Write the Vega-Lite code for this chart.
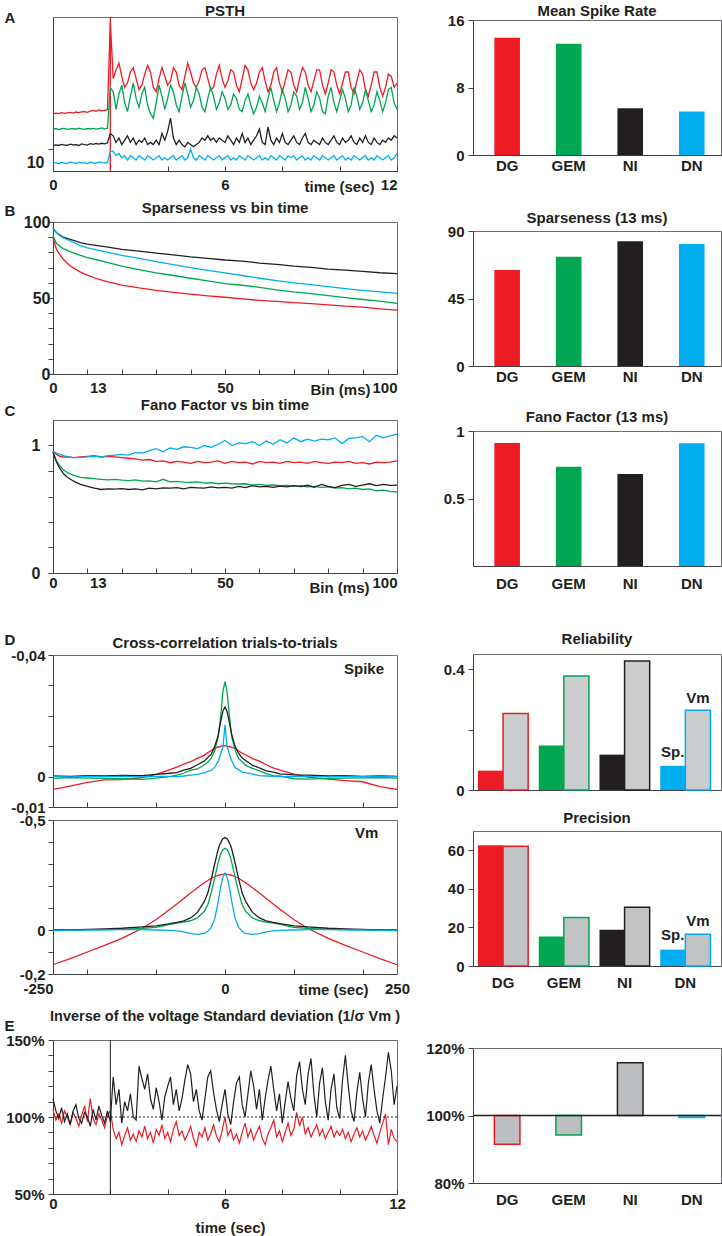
{
"$schema":"https://vega.github.io/schema/vega-lite/v6.json",
"background":"white",
"autosize":{"type":"pad"},
"padding":{"left":3,"top":3,"right":2,"bottom":2},
"config":{
 "font":"Liberation Sans",
 "view":{"stroke":"#6d6e71","strokeWidth":1},
 "axis":{"grid":false,"domainColor":"#414042","domainWidth":1,"tickColor":"#414042","tickWidth":1,"tickSize":5,"labelFont":"Liberation Sans","labelFontSize":15,"labelFontWeight":"bold","labelColor":"#231f20","labelFlush":false,"labelOverlap":false,"titleFont":"Liberation Sans","titleFontSize":15,"titleFontWeight":"bold","titleColor":"#231f20"},
 "axisX":{"labelBaseline":"middle","labelAngle":0},
 "title":{"font":"Liberation Sans","fontSize":15,"fontWeight":"bold","color":"#231f20","frame":"group","anchor":"middle"},
 "line":{"strokeWidth":1.3}
},
"datasets":{
"psth":[
{"t":0,"DG":26.0,"GEM":19.0,"NI":11.5,"DN":3.5},{"t":0.1,"DG":26.3,"GEM":19.3,"NI":11.9,"DN":3.9},{"t":0.2,"DG":26.1,"GEM":18.8,"NI":11.6,"DN":3.3},{"t":0.3,"DG":26.5,"GEM":19.2,"NI":12.1,"DN":4.0},{"t":0.4,"DG":26.2,"GEM":19.4,"NI":11.8,"DN":3.6},{"t":0.5,"DG":26.4,"GEM":18.9,"NI":11.7,"DN":3.4},{"t":0.6,"DG":26.6,"GEM":19.1,"NI":12.2,"DN":4.1},{"t":0.7,"DG":26.3,"GEM":19.3,"NI":11.9,"DN":3.7},{"t":0.8,"DG":26.8,"GEM":19.0,"NI":12.0,"DN":3.5},{"t":0.9,"DG":26.5,"GEM":19.5,"NI":11.6,"DN":4.0},
{"t":1.0,"DG":26.9,"GEM":19.2,"NI":12.3,"DN":3.6},{"t":1.1,"DG":27.0,"GEM":18.9,"NI":12.0,"DN":3.8},{"t":1.2,"DG":26.7,"GEM":19.3,"NI":11.8,"DN":3.4},{"t":1.3,"DG":27.2,"GEM":19.1,"NI":12.4,"DN":4.0},{"t":1.4,"DG":27.5,"GEM":19.4,"NI":12.1,"DN":3.7},{"t":1.5,"DG":27.1,"GEM":19.0,"NI":12.5,"DN":3.5},{"t":1.6,"DG":27.8,"GEM":19.3,"NI":12.2,"DN":4.1},{"t":1.7,"DG":27.3,"GEM":19.6,"NI":12.6,"DN":3.8},{"t":1.8,"DG":27.6,"GEM":19.2,"NI":12.3,"DN":3.6},{"t":1.9,"DG":27.9,"GEM":19.5,"NI":12.8,"DN":3.9},
{"t":2.0,"DG":68,"GEM":38,"NI":17,"DN":9},
{"t":2.1,"DG":42,"GEM":36,"NI":16,"DN":9},{"t":2.2,"DG":46,"GEM":28,"NI":13,"DN":7},{"t":2.3,"DG":49,"GEM":35,"NI":15,"DN":8},{"t":2.4,"DG":43,"GEM":39,"NI":12,"DN":6},{"t":2.5,"DG":38,"GEM":31,"NI":14,"DN":7},{"t":2.6,"DG":40,"GEM":27,"NI":16,"DN":5},{"t":2.7,"DG":45,"GEM":34,"NI":13,"DN":7},{"t":2.8,"DG":47,"GEM":40,"NI":15,"DN":6},{"t":2.9,"DG":42,"GEM":33,"NI":12,"DN":5},{"t":3.0,"DG":37,"GEM":29,"NI":14,"DN":7},
{"t":3.1,"DG":39,"GEM":35,"NI":13,"DN":6},{"t":3.2,"DG":44,"GEM":38,"NI":15,"DN":5},{"t":3.3,"DG":48,"GEM":30,"NI":12,"DN":7},{"t":3.4,"DG":45,"GEM":26,"NI":13,"DN":6},{"t":3.5,"DG":38,"GEM":24,"NI":12,"DN":5},{"t":3.6,"DG":36,"GEM":31,"NI":14,"DN":6},{"t":3.7,"DG":42,"GEM":39,"NI":12,"DN":7},{"t":3.8,"DG":47,"GEM":34,"NI":17,"DN":5},{"t":3.9,"DG":43,"GEM":28,"NI":14,"DN":6},{"t":4.0,"DG":39,"GEM":33,"NI":18,"DN":5},
{"t":4.1,"DG":41,"GEM":39,"NI":24,"DN":6},{"t":4.2,"DG":47,"GEM":36,"NI":15,"DN":7},{"t":4.3,"DG":45,"GEM":30,"NI":12,"DN":5},{"t":4.4,"DG":39,"GEM":27,"NI":14,"DN":6},{"t":4.5,"DG":37,"GEM":34,"NI":12,"DN":7},{"t":4.6,"DG":43,"GEM":40,"NI":11,"DN":5},{"t":4.7,"DG":49,"GEM":35,"NI":13,"DN":6},{"t":4.8,"DG":45,"GEM":29,"NI":12,"DN":10},{"t":4.9,"DG":40,"GEM":32,"NI":11,"DN":6},{"t":5.0,"DG":38,"GEM":38,"NI":12,"DN":5},
{"t":5.1,"DG":41,"GEM":35,"NI":13,"DN":7},{"t":5.2,"DG":46,"GEM":29,"NI":15,"DN":6},{"t":5.3,"DG":47,"GEM":27,"NI":14,"DN":5},{"t":5.4,"DG":42,"GEM":33,"NI":16,"DN":7},{"t":5.5,"DG":37,"GEM":38,"NI":14,"DN":6},{"t":5.6,"DG":38,"GEM":34,"NI":15,"DN":5},{"t":5.7,"DG":44,"GEM":28,"NI":13,"DN":6},{"t":5.8,"DG":48,"GEM":31,"NI":15,"DN":7},{"t":5.9,"DG":42,"GEM":36,"NI":14,"DN":5},{"t":6.0,"DG":38,"GEM":33,"NI":13,"DN":6},
{"t":6.1,"DG":41,"GEM":28,"NI":16,"DN":7},{"t":6.2,"DG":46,"GEM":30,"NI":14,"DN":5},{"t":6.3,"DG":45,"GEM":35,"NI":12,"DN":6},{"t":6.4,"DG":39,"GEM":33,"NI":15,"DN":5},{"t":6.5,"DG":36,"GEM":28,"NI":13,"DN":7},{"t":6.6,"DG":42,"GEM":27,"NI":17,"DN":6},{"t":6.7,"DG":48,"GEM":32,"NI":13,"DN":5},{"t":6.8,"DG":46,"GEM":35,"NI":15,"DN":7},{"t":6.9,"DG":40,"GEM":30,"NI":12,"DN":6},{"t":7.0,"DG":37,"GEM":26,"NI":14,"DN":5},
{"t":7.1,"DG":40,"GEM":29,"NI":16,"DN":6},{"t":7.2,"DG":45,"GEM":34,"NI":19,"DN":7},{"t":7.3,"DG":47,"GEM":31,"NI":13,"DN":5},{"t":7.4,"DG":41,"GEM":27,"NI":12,"DN":6},{"t":7.5,"DG":36,"GEM":33,"NI":20,"DN":5},{"t":7.6,"DG":39,"GEM":38,"NI":14,"DN":7},{"t":7.7,"DG":45,"GEM":32,"NI":12,"DN":6},{"t":7.8,"DG":47,"GEM":27,"NI":15,"DN":5},{"t":7.9,"DG":40,"GEM":31,"NI":13,"DN":7},{"t":8.0,"DG":36,"GEM":37,"NI":17,"DN":6},
{"t":8.1,"DG":41,"GEM":33,"NI":13,"DN":5},{"t":8.2,"DG":46,"GEM":27,"NI":12,"DN":7},{"t":8.3,"DG":45,"GEM":30,"NI":14,"DN":6},{"t":8.4,"DG":39,"GEM":36,"NI":16,"DN":7},{"t":8.5,"DG":36,"GEM":34,"NI":13,"DN":5},{"t":8.6,"DG":42,"GEM":28,"NI":12,"DN":6},{"t":8.7,"DG":47,"GEM":31,"NI":15,"DN":7},{"t":8.8,"DG":45,"GEM":38,"NI":17,"DN":5},{"t":8.9,"DG":39,"GEM":33,"NI":13,"DN":6},{"t":9.0,"DG":36,"GEM":27,"NI":12,"DN":5},
{"t":9.1,"DG":41,"GEM":30,"NI":14,"DN":7},{"t":9.2,"DG":46,"GEM":36,"NI":13,"DN":6},{"t":9.3,"DG":46,"GEM":33,"NI":12,"DN":5},{"t":9.4,"DG":39,"GEM":27,"NI":15,"DN":7},{"t":9.5,"DG":35,"GEM":26,"NI":13,"DN":6},{"t":9.6,"DG":40,"GEM":34,"NI":12,"DN":5},{"t":9.7,"DG":46,"GEM":38,"NI":14,"DN":6},{"t":9.8,"DG":45,"GEM":31,"NI":16,"DN":7},{"t":9.9,"DG":39,"GEM":27,"NI":13,"DN":5},{"t":10.0,"DG":35,"GEM":32,"NI":12,"DN":6},
{"t":10.1,"DG":40,"GEM":37,"NI":15,"DN":7},{"t":10.2,"DG":45,"GEM":33,"NI":13,"DN":5},{"t":10.3,"DG":45,"GEM":27,"NI":14,"DN":6},{"t":10.4,"DG":38,"GEM":30,"NI":16,"DN":5},{"t":10.5,"DG":35,"GEM":38,"NI":13,"DN":7},{"t":10.6,"DG":41,"GEM":34,"NI":12,"DN":6},{"t":10.7,"DG":46,"GEM":28,"NI":15,"DN":5},{"t":10.8,"DG":44,"GEM":31,"NI":13,"DN":6},{"t":10.9,"DG":37,"GEM":37,"NI":16,"DN":7},{"t":11.0,"DG":34,"GEM":32,"NI":13,"DN":5},
{"t":11.1,"DG":39,"GEM":27,"NI":12,"DN":6},{"t":11.2,"DG":45,"GEM":30,"NI":15,"DN":5},{"t":11.3,"DG":45,"GEM":36,"NI":13,"DN":7},{"t":11.4,"DG":38,"GEM":32,"NI":12,"DN":6},{"t":11.5,"DG":34,"GEM":27,"NI":14,"DN":5},{"t":11.6,"DG":38,"GEM":31,"NI":13,"DN":6},{"t":11.7,"DG":44,"GEM":37,"NI":15,"DN":7},{"t":11.8,"DG":43,"GEM":38,"NI":14,"DN":5},{"t":11.9,"DG":38,"GEM":31,"NI":16,"DN":6},{"t":12.0,"DG":40,"GEM":28,"NI":15,"DN":8}
],
"spars":[
{"ms":0,"DG":90,"GEM":91,"NI":96,"DN":96},{"ms":1,"DG":82,"GEM":86,"NI":93,"DN":93},{"ms":2,"DG":78.5,"GEM":84,"NI":91.5,"DN":91},{"ms":3,"DG":75.5,"GEM":82.5,"NI":90,"DN":89.5},{"ms":5,"DG":71,"GEM":80.5,"NI":88.5,"DN":87.5},{"ms":8,"DG":67,"GEM":78,"NI":86.5,"DN":84.5},{"ms":10,"DG":65,"GEM":76.6,"NI":85.5,"DN":83},{"ms":13,"DG":62.5,"GEM":75,"NI":84.5,"DN":81.5},{"ms":16,"DG":60.6,"GEM":73.2,"NI":83.5,"DN":80},{"ms":20,"DG":58.5,"GEM":71,"NI":82,"DN":78},
{"ms":25,"DG":56.6,"GEM":68.7,"NI":80.8,"DN":76},{"ms":30,"DG":55,"GEM":66.5,"NI":79.5,"DN":74},{"ms":35,"DG":53.7,"GEM":64.8,"NI":78.4,"DN":72},{"ms":40,"DG":52.5,"GEM":63,"NI":77,"DN":70},{"ms":45,"DG":51.4,"GEM":61.2,"NI":76.1,"DN":68.2},{"ms":50,"DG":50.5,"GEM":59.5,"NI":75,"DN":66.5},{"ms":55,"DG":49.4,"GEM":58.4,"NI":74.2,"DN":64.8},{"ms":60,"DG":48.5,"GEM":57,"NI":73,"DN":63},{"ms":65,"DG":47.8,"GEM":55.4,"NI":72.1,"DN":61.4},{"ms":70,"DG":47,"GEM":54,"NI":71,"DN":60},
{"ms":75,"DG":46.3,"GEM":52.9,"NI":70.2,"DN":58.8},{"ms":80,"DG":45.5,"GEM":51.5,"NI":69,"DN":57.5},{"ms":85,"DG":44.6,"GEM":50.3,"NI":68.3,"DN":56.2},{"ms":90,"DG":44,"GEM":49,"NI":67.5,"DN":55},{"ms":95,"DG":42.9,"GEM":47.9,"NI":66.6,"DN":54},{"ms":100,"DG":42,"GEM":46.5,"NI":66,"DN":53}
],
"fano":[
{"ms":0,"DG":0.955,"GEM":0.945,"NI":0.95,"DN":0.955},{"ms":1,"DG":0.93,"GEM":0.88,"NI":0.87,"DN":0.94},{"ms":2,"DG":0.915,"GEM":0.84,"NI":0.82,"DN":0.93},{"ms":3,"DG":0.91,"GEM":0.81,"NI":0.78,"DN":0.92},{"ms":4,"DG":0.91,"GEM":0.79,"NI":0.755,"DN":0.915},
{"ms":6,"DG":0.905,"GEM":0.765,"NI":0.72,"DN":0.905},{"ms":8,"DG":0.91,"GEM":0.75,"NI":0.695,"DN":0.905},{"ms":10,"DG":0.915,"GEM":0.745,"NI":0.68,"DN":0.91},{"ms":12,"DG":0.92,"GEM":0.74,"NI":0.665,"DN":0.915},{"ms":14,"DG":0.91,"GEM":0.735,"NI":0.655,"DN":0.91},{"ms":16,"DG":0.915,"GEM":0.73,"NI":0.66,"DN":0.92},{"ms":18,"DG":0.91,"GEM":0.735,"NI":0.658,"DN":0.925},{"ms":20,"DG":0.905,"GEM":0.728,"NI":0.662,"DN":0.93},{"ms":22,"DG":0.9,"GEM":0.725,"NI":0.655,"DN":0.925},{"ms":24,"DG":0.895,"GEM":0.73,"NI":0.66,"DN":0.945},
{"ms":26,"DG":0.885,"GEM":0.72,"NI":0.652,"DN":0.94},{"ms":28,"DG":0.89,"GEM":0.722,"NI":0.665,"DN":0.96},{"ms":30,"DG":0.875,"GEM":0.715,"NI":0.66,"DN":0.975},{"ms":32,"DG":0.88,"GEM":0.735,"NI":0.668,"DN":0.95},{"ms":34,"DG":0.865,"GEM":0.715,"NI":0.665,"DN":0.98},{"ms":36,"DG":0.875,"GEM":0.718,"NI":0.67,"DN":0.97},{"ms":38,"DG":0.87,"GEM":0.712,"NI":0.66,"DN":0.99},{"ms":40,"DG":0.86,"GEM":0.71,"NI":0.672,"DN":0.985},{"ms":42,"DG":0.875,"GEM":0.715,"NI":0.668,"DN":0.975},{"ms":44,"DG":0.865,"GEM":0.705,"NI":0.665,"DN":1.0},
{"ms":46,"DG":0.87,"GEM":0.708,"NI":0.675,"DN":0.985},{"ms":48,"DG":0.88,"GEM":0.7,"NI":0.668,"DN":1.01},{"ms":50,"DG":0.86,"GEM":0.705,"NI":0.672,"DN":1.04},{"ms":52,"DG":0.875,"GEM":0.7,"NI":0.665,"DN":1.0},{"ms":54,"DG":0.865,"GEM":0.698,"NI":0.68,"DN":1.02},{"ms":56,"DG":0.87,"GEM":0.7,"NI":0.67,"DN":1.015},{"ms":58,"DG":0.855,"GEM":0.69,"NI":0.685,"DN":1.03},{"ms":60,"DG":0.875,"GEM":0.695,"NI":0.675,"DN":1.0},{"ms":62,"DG":0.865,"GEM":0.688,"NI":0.68,"DN":1.035},{"ms":64,"DG":0.87,"GEM":0.69,"NI":0.672,"DN":1.01},
{"ms":66,"DG":0.86,"GEM":0.685,"NI":0.682,"DN":1.045},{"ms":68,"DG":0.875,"GEM":0.688,"NI":0.675,"DN":1.02},{"ms":70,"DG":0.865,"GEM":0.68,"NI":0.685,"DN":1.06},{"ms":72,"DG":0.87,"GEM":0.685,"NI":0.678,"DN":1.03},{"ms":74,"DG":0.86,"GEM":0.675,"NI":0.688,"DN":1.05},{"ms":76,"DG":0.875,"GEM":0.68,"NI":0.672,"DN":1.035},{"ms":78,"DG":0.865,"GEM":0.672,"NI":0.695,"DN":1.05},{"ms":80,"DG":0.86,"GEM":0.675,"NI":0.68,"DN":1.045},{"ms":82,"DG":0.87,"GEM":0.665,"NI":0.67,"DN":1.06},{"ms":84,"DG":0.865,"GEM":0.67,"NI":0.688,"DN":1.015},
{"ms":86,"DG":0.875,"GEM":0.66,"NI":0.695,"DN":1.055},{"ms":88,"DG":0.86,"GEM":0.665,"NI":0.68,"DN":1.06},{"ms":90,"DG":0.865,"GEM":0.655,"NI":0.69,"DN":1.07},{"ms":92,"DG":0.855,"GEM":0.66,"NI":0.7,"DN":1.03},{"ms":94,"DG":0.87,"GEM":0.645,"NI":0.685,"DN":1.08},{"ms":96,"DG":0.865,"GEM":0.65,"NI":0.695,"DN":1.06},{"ms":98,"DG":0.87,"GEM":0.64,"NI":0.688,"DN":1.075},{"ms":100,"DG":0.88,"GEM":0.635,"NI":0.69,"DN":1.09}
],
"xspike":[
{"lag":-250,"NI":0.0002,"GEM":-0.0006,"DN":0.0001,"DG":-0.0042},{"lag":-225,"NI":0.0001,"GEM":-0.0003,"DN":-0.0001,"DG":-0.0031},{"lag":-200,"NI":0.0003,"GEM":-0.0005,"DN":0.0001,"DG":-0.0019},{"lag":-175,"NI":0.0002,"GEM":-0.0006,"DN":0.0,"DG":-0.0011},{"lag":-150,"NI":0.0004,"GEM":-0.0007,"DN":0.0001,"DG":-0.001},{"lag":-120,"NI":0.0003,"GEM":-0.0009,"DN":-0.0001,"DG":-0.0003},{"lag":-100,"NI":0.0007,"GEM":-0.0005,"DN":0.0001,"DG":0.0007},
{"lag":-80,"NI":0.0011,"GEM":0.0,"DN":0.0001,"DG":0.0023},{"lag":-70,"NI":0.0013,"GEM":0.0005,"DN":0.0,"DG":0.0031},{"lag":-60,"NI":0.0021,"GEM":0.0011,"DN":0.0002,"DG":0.0041},{"lag":-50,"NI":0.0027,"GEM":0.0021,"DN":0.0005,"DG":0.0049},{"lag":-40,"NI":0.0039,"GEM":0.0025,"DN":0.0007,"DG":0.0061},{"lag":-30,"NI":0.0051,"GEM":0.0039,"DN":0.0012,"DG":0.007},{"lag":-25,"NI":0.0063,"GEM":0.0047,"DN":0.0017,"DG":0.0079},{"lag":-20,"NI":0.0074,"GEM":0.0061,"DN":0.002,"DG":0.0086},
{"lag":-15,"NI":0.0099,"GEM":0.0084,"DN":0.0031,"DG":0.0091},{"lag":-10,"NI":0.0134,"GEM":0.0131,"DN":0.0049,"DG":0.0098},{"lag":-8,"NI":0.0161,"GEM":0.0164,"DN":0.0063,"DG":0.0097},{"lag":-5,"NI":0.0196,"GEM":0.0229,"DN":0.0084,"DG":0.0101},{"lag":-3,"NI":0.0216,"GEM":0.0281,"DN":0.0097,"DG":0.01},{"lag":0,"NI":0.0229,"GEM":0.0312,"DN":0.017,"DG":0.0102},
{"lag":3,"NI":0.0214,"GEM":0.0279,"DN":0.0099,"DG":0.0101},{"lag":5,"NI":0.0194,"GEM":0.0231,"DN":0.0086,"DG":0.0099},{"lag":8,"NI":0.0159,"GEM":0.0166,"DN":0.0061,"DG":0.0098},{"lag":10,"NI":0.0136,"GEM":0.0129,"DN":0.0051,"DG":0.0096},{"lag":15,"NI":0.0097,"GEM":0.0086,"DN":0.0029,"DG":0.0093},{"lag":20,"NI":0.0076,"GEM":0.0059,"DN":0.0022,"DG":0.0084},{"lag":25,"NI":0.0061,"GEM":0.0049,"DN":0.0015,"DG":0.0077},{"lag":30,"NI":0.0053,"GEM":0.0037,"DN":0.0013,"DG":0.0072},
{"lag":40,"NI":0.0037,"GEM":0.0027,"DN":0.0008,"DG":0.0059},{"lag":50,"NI":0.0029,"GEM":0.0019,"DN":0.0003,"DG":0.0051},{"lag":60,"NI":0.0019,"GEM":0.001,"DN":0.0002,"DG":0.0039},{"lag":70,"NI":0.0015,"GEM":0.0003,"DN":0.0001,"DG":0.0029},{"lag":80,"NI":0.0009,"GEM":0.0002,"DN":0.0,"DG":0.0021},{"lag":100,"NI":0.0006,"GEM":-0.0007,"DN":0.0001,"DG":0.0008},{"lag":120,"NI":0.0005,"GEM":-0.0008,"DN":0.0,"DG":-0.0002},
{"lag":150,"NI":0.0002,"GEM":-0.0006,"DN":-0.0001,"DG":-0.0008},{"lag":175,"NI":0.0003,"GEM":-0.0005,"DN":0.0001,"DG":-0.0013},{"lag":200,"NI":0.0001,"GEM":-0.0004,"DN":0.0,"DG":-0.0017},{"lag":225,"NI":0.0002,"GEM":-0.0003,"DN":0.0001,"DG":-0.0033},{"lag":250,"NI":0.0001,"GEM":-0.0005,"DN":0.0,"DG":-0.0042}
],
"xvm":[
{"lag":-250,"NI":0.0,"GEM":-0.003,"DN":-0.003,"DG":-0.158},{"lag":-225,"NI":0.001,"GEM":-0.001,"DN":-0.002,"DG":-0.13},{"lag":-200,"NI":0.003,"GEM":0.001,"DN":0.0,"DG":-0.1},{"lag":-175,"NI":0.005,"GEM":0.002,"DN":0.001,"DG":-0.07},{"lag":-150,"NI":0.008,"GEM":0.003,"DN":0.002,"DG":-0.038},{"lag":-120,"NI":0.014,"GEM":0.007,"DN":0.002,"DG":0.008},{"lag":-100,"NI":0.019,"GEM":0.012,"DN":0.0,"DG":0.048},
{"lag":-80,"NI":0.029,"GEM":0.026,"DN":-0.002,"DG":0.094},{"lag":-70,"NI":0.035,"GEM":0.031,"DN":-0.004,"DG":0.118},{"lag":-60,"NI":0.042,"GEM":0.036,"DN":-0.009,"DG":0.143},{"lag":-50,"NI":0.055,"GEM":0.042,"DN":-0.016,"DG":0.168},{"lag":-40,"NI":0.08,"GEM":0.055,"DN":-0.02,"DG":0.192},{"lag":-30,"NI":0.13,"GEM":0.085,"DN":-0.015,"DG":0.215},{"lag":-25,"NI":0.168,"GEM":0.115,"DN":-0.006,"DG":0.225},{"lag":-20,"NI":0.23,"GEM":0.17,"DN":0.012,"DG":0.235},
{"lag":-15,"NI":0.3,"GEM":0.235,"DN":0.05,"DG":0.242},{"lag":-10,"NI":0.365,"GEM":0.305,"DN":0.125,"DG":0.248},{"lag":-8,"NI":0.385,"GEM":0.33,"DN":0.165,"DG":0.25},{"lag":-5,"NI":0.405,"GEM":0.355,"DN":0.215,"DG":0.252},{"lag":-3,"NI":0.415,"GEM":0.365,"DN":0.24,"DG":0.253},{"lag":0,"NI":0.42,"GEM":0.371,"DN":0.258,"DG":0.254},
{"lag":3,"NI":0.415,"GEM":0.365,"DN":0.24,"DG":0.253},{"lag":5,"NI":0.405,"GEM":0.355,"DN":0.215,"DG":0.252},{"lag":8,"NI":0.385,"GEM":0.33,"DN":0.165,"DG":0.25},{"lag":10,"NI":0.365,"GEM":0.305,"DN":0.125,"DG":0.248},{"lag":15,"NI":0.3,"GEM":0.235,"DN":0.05,"DG":0.242},{"lag":20,"NI":0.23,"GEM":0.17,"DN":0.012,"DG":0.235},{"lag":25,"NI":0.168,"GEM":0.115,"DN":-0.006,"DG":0.225},{"lag":30,"NI":0.13,"GEM":0.085,"DN":-0.015,"DG":0.215},
{"lag":40,"NI":0.08,"GEM":0.055,"DN":-0.02,"DG":0.192},{"lag":50,"NI":0.055,"GEM":0.042,"DN":-0.016,"DG":0.168},{"lag":60,"NI":0.042,"GEM":0.036,"DN":-0.009,"DG":0.143},{"lag":70,"NI":0.035,"GEM":0.031,"DN":-0.004,"DG":0.118},{"lag":80,"NI":0.029,"GEM":0.026,"DN":-0.002,"DG":0.094},{"lag":100,"NI":0.019,"GEM":0.012,"DN":0.0,"DG":0.048},{"lag":120,"NI":0.014,"GEM":0.007,"DN":0.002,"DG":0.008},
{"lag":150,"NI":0.008,"GEM":0.003,"DN":0.002,"DG":-0.038},{"lag":175,"NI":0.005,"GEM":0.002,"DN":0.001,"DG":-0.07},{"lag":200,"NI":0.003,"GEM":0.001,"DN":0.0,"DG":-0.1},{"lag":225,"NI":0.001,"GEM":-0.001,"DN":-0.002,"DG":-0.13},{"lag":250,"NI":0.0,"GEM":-0.003,"DN":-0.003,"DG":-0.158}
],
"sigma":[
{"t":0,"DG":105,"NI":112},{"t":0.1,"DG":98,"NI":104},{"t":0.2,"DG":102,"NI":99},{"t":0.3,"DG":96,"NI":106},{"t":0.4,"DG":104,"NI":97},{"t":0.5,"DG":100,"NI":102},{"t":0.6,"DG":95,"NI":95},{"t":0.7,"DG":103,"NI":104},{"t":0.8,"DG":99,"NI":108},{"t":0.9,"DG":94,"NI":99},
{"t":1.0,"DG":101,"NI":96},{"t":1.1,"DG":107,"NI":103},{"t":1.2,"DG":97,"NI":100},{"t":1.3,"DG":112,"NI":94},{"t":1.4,"DG":99,"NI":105},{"t":1.5,"DG":95,"NI":98},{"t":1.6,"DG":102,"NI":107},{"t":1.7,"DG":98,"NI":101},{"t":1.8,"DG":93,"NI":96},{"t":1.9,"DG":101,"NI":104},
{"t":2.0,"DG":104,"NI":97},{"t":2.1,"DG":92,"NI":126},{"t":2.2,"DG":86,"NI":108},{"t":2.3,"DG":90,"NI":118},{"t":2.4,"DG":82,"NI":96},{"t":2.5,"DG":88,"NI":110},{"t":2.6,"DG":93,"NI":104},{"t":2.7,"DG":85,"NI":115},{"t":2.8,"DG":89,"NI":100},{"t":2.9,"DG":84,"NI":98},
{"t":3.0,"DG":91,"NI":133},{"t":3.1,"DG":87,"NI":125},{"t":3.2,"DG":94,"NI":118},{"t":3.3,"DG":86,"NI":128},{"t":3.4,"DG":90,"NI":112},{"t":3.5,"DG":83,"NI":105},{"t":3.6,"DG":92,"NI":119},{"t":3.7,"DG":88,"NI":110},{"t":3.8,"DG":95,"NI":98},{"t":3.9,"DG":86,"NI":113},
{"t":4.0,"DG":90,"NI":120},{"t":4.1,"DG":84,"NI":126},{"t":4.2,"DG":92,"NI":108},{"t":4.3,"DG":97,"NI":118},{"t":4.4,"DG":88,"NI":104},{"t":4.5,"DG":91,"NI":112},{"t":4.6,"DG":85,"NI":124},{"t":4.7,"DG":89,"NI":134},{"t":4.8,"DG":94,"NI":128},{"t":4.9,"DG":86,"NI":110},
{"t":5.0,"DG":81,"NI":118},{"t":5.1,"DG":90,"NI":104},{"t":5.2,"DG":87,"NI":98},{"t":5.3,"DG":93,"NI":112},{"t":5.4,"DG":85,"NI":126},{"t":5.5,"DG":89,"NI":130},{"t":5.6,"DG":95,"NI":116},{"t":5.7,"DG":88,"NI":105},{"t":5.8,"DG":84,"NI":97},{"t":5.9,"DG":91,"NI":108},
{"t":6.0,"DG":100,"NI":118},{"t":6.1,"DG":88,"NI":102},{"t":6.2,"DG":92,"NI":95},{"t":6.3,"DG":85,"NI":110},{"t":6.4,"DG":89,"NI":122},{"t":6.5,"DG":83,"NI":126},{"t":6.6,"DG":90,"NI":108},{"t":6.7,"DG":96,"NI":100},{"t":6.8,"DG":87,"NI":115},{"t":6.9,"DG":92,"NI":130},
{"t":7.0,"DG":85,"NI":120},{"t":7.1,"DG":90,"NI":105},{"t":7.2,"DG":94,"NI":118},{"t":7.3,"DG":86,"NI":98},{"t":7.4,"DG":82,"NI":112},{"t":7.5,"DG":89,"NI":124},{"t":7.6,"DG":93,"NI":133},{"t":7.7,"DG":98,"NI":118},{"t":7.8,"DG":87,"NI":104},{"t":7.9,"DG":91,"NI":115},
{"t":8.0,"DG":84,"NI":96},{"t":8.1,"DG":90,"NI":110},{"t":8.2,"DG":96,"NI":123},{"t":8.3,"DG":88,"NI":112},{"t":8.4,"DG":92,"NI":104},{"t":8.5,"DG":103,"NI":127},{"t":8.6,"DG":94,"NI":136},{"t":8.7,"DG":100,"NI":118},{"t":8.8,"DG":89,"NI":108},{"t":8.9,"DG":93,"NI":128},
{"t":9.0,"DG":87,"NI":138},{"t":9.1,"DG":91,"NI":115},{"t":9.2,"DG":95,"NI":100},{"t":9.3,"DG":88,"NI":122},{"t":9.4,"DG":92,"NI":132},{"t":9.5,"DG":86,"NI":110},{"t":9.6,"DG":90,"NI":98},{"t":9.7,"DG":94,"NI":118},{"t":9.8,"DG":87,"NI":128},{"t":9.9,"DG":91,"NI":106},
{"t":10.0,"DG":88,"NI":99},{"t":10.1,"DG":92,"NI":124},{"t":10.2,"DG":86,"NI":140},{"t":10.3,"DG":90,"NI":120},{"t":10.4,"DG":84,"NI":104},{"t":10.5,"DG":89,"NI":97},{"t":10.6,"DG":93,"NI":116},{"t":10.7,"DG":87,"NI":129},{"t":10.8,"DG":91,"NI":112},{"t":10.9,"DG":85,"NI":100},
{"t":11.0,"DG":89,"NI":122},{"t":11.1,"DG":94,"NI":134},{"t":11.2,"DG":88,"NI":118},{"t":11.3,"DG":83,"NI":104},{"t":11.4,"DG":90,"NI":96},{"t":11.5,"DG":96,"NI":112},{"t":11.6,"DG":102,"NI":126},{"t":11.7,"DG":82,"NI":142},{"t":11.8,"DG":92,"NI":130},{"t":11.9,"DG":86,"NI":108},
{"t":12.0,"DG":84,"NI":120}
],
"bars":[
{"grp":"DG","rate":13.9,"spars":64,"fano":0.911,"sig":91.5},
{"grp":"GEM","rate":13.2,"spars":72.9,"fano":0.736,"sig":94.2},
{"grp":"NI","rate":5.55,"spars":83.1,"fano":0.681,"sig":115.6},
{"grp":"DN","rate":5.16,"spars":81.3,"fano":0.909,"sig":99.4}
],
"rp":[
{"grp":"DG","sub":"Sp","rel":0.064,"prec":62.6},{"grp":"DG","sub":"Vm","rel":0.253,"prec":62.1},
{"grp":"GEM","sub":"Sp","rel":0.147,"prec":15.3},{"grp":"GEM","sub":"Vm","rel":0.377,"prec":25.2},
{"grp":"NI","sub":"Sp","rel":0.117,"prec":18.8},{"grp":"NI","sub":"Vm","rel":0.427,"prec":30.4},
{"grp":"DN","sub":"Sp","rel":0.08,"prec":8.5},{"grp":"DN","sub":"Vm","rel":0.264,"prec":16.5}
]
},
"spacing":14,
"hconcat":[
{"bounds":"flush","spacing":51,"vconcat":[
 {"width":344,"height":154,"title":{"text":"PSTH","offset":-9},
  "layer":[
   {"data":{"values":[{}]},"mark":{"type":"rule","color":"#ed1c24","strokeWidth":1.3},"encoding":{"x":{"datum":2}}},
   {"data":{"name":"psth"},"transform":[{"fold":["DG","GEM","NI","DN"],"as":["grp","v"]}],
    "mark":{"type":"line","strokeWidth":1.3},
    "encoding":{
     "x":{"field":"t","type":"quantitative","scale":{"domain":[0,12],"nice":false},
      "axis":{"values":[0,2,4,6,8,10,12],"labelExpr":"datum.value==0?'0':datum.value==6?'6':datum.value==12?'12':''","tickSize":-5,"labelPadding":18,"labelAlign":{"condition":{"test":"datum.value==12","value":"right"},"value":"center"},"title":"time (sec)","titleX":286,"titleY":15,"titleAlign":"center","titleBaseline":"middle"}},
     "y":{"field":"v","type":"quantitative","scale":{"domain":[0,70],"nice":false},
      "axis":{"values":[10],"labelExpr":"'10'","tickSize":5,"labelPadding":4,"labelOffset":13,"labelFontSize":16,"title":"A","titleAngle":0,"titleAlign":"left","titleBaseline":"middle","titleX":-49,"titleY":0}},
     "color":{"field":"grp","type":"nominal","scale":{"domain":["DG","GEM","NI","DN"],"range":["#ed1c24","#00a651","#231f20","#00aeef"]},"legend":null}}}
  ]},
 {"bounds":"flush","spacing":46,"vconcat":[
  {"width":344,"height":152,"title":{"text":"Sparseness vs bin time","offset":-13},
   "data":{"name":"spars"},"transform":[{"fold":["DG","GEM","NI","DN"],"as":["grp","v"]}],
   "mark":{"type":"line","strokeWidth":1.3},
   "encoding":{
    "x":{"field":"ms","type":"quantitative","scale":{"domain":[0,100],"nice":false},
     "axis":{"values":[0,10,13,20,30,40,50,60,70,80,90,100],"labelExpr":"datum.value==0?'0':datum.value==13?'13':datum.value==50?'50':datum.value==100?'100':''","tickSize":-5,"tickOpacity":{"condition":{"test":"datum.value==13","value":0},"value":1},"labelPadding":18,"labelAlign":{"condition":{"test":"datum.value==100","value":"right"},"value":"center"},"title":"Bin (ms)","titleX":287,"titleY":15,"titleAlign":"center","titleBaseline":"middle"}},
    "y":{"field":"v","type":"quantitative","scale":{"domain":[0,100],"nice":false},
     "axis":{"values":[0,10,20,30,40,50,60,70,80,90,100],"labelExpr":"datum.value==0?'0':datum.value==50?'50':datum.value==100?'100':''","tickSize":5,"labelPadding":-2,"labelFontSize":16,"title":"B","titleAngle":0,"titleAlign":"left","titleBaseline":"middle","titleX":-49,"titleY":-12,
      "encode":{"labels":{"update":{"dy":{"signal":"datum.value==0?-6:1"}}}}}},
    "color":{"field":"grp","type":"nominal","scale":{"domain":["DG","GEM","NI","DN"],"range":["#ed1c24","#00a651","#231f20","#00aeef"]},"legend":null}}},
  {"bounds":"flush","spacing":82,"vconcat":[
   {"width":344,"height":153,"title":{"text":"Fano Factor vs bin time","offset":-10},
    "data":{"name":"fano"},"transform":[{"fold":["DG","GEM","NI","DN"],"as":["grp","v"]}],
    "mark":{"type":"line","strokeWidth":1.3},
    "encoding":{
     "x":{"field":"ms","type":"quantitative","scale":{"domain":[0,100],"nice":false},
      "axis":{"values":[0,10,13,20,30,40,50,60,70,80,90,100],"labelExpr":"datum.value==0?'0':datum.value==13?'13':datum.value==50?'50':datum.value==100?'100':''","tickSize":-5,"tickOpacity":{"condition":{"test":"datum.value==13","value":0},"value":1},"labelPadding":14,"labelAlign":{"condition":{"test":"datum.value==100","value":"right"},"value":"center"},"title":"Bin (ms)","titleX":286,"titleY":14,"titleAlign":"center","titleBaseline":"middle"}},
     "y":{"field":"v","type":"quantitative","scale":{"domain":[0,1.2],"nice":false},
      "axis":{"values":[0,0.2,0.4,0.6,0.8,1],"labelExpr":"datum.value==0?'0':datum.value==1?'1':''","tickSize":5,"labelPadding":8,"labelFontSize":16,"title":"C","titleAngle":0,"titleAlign":"left","titleBaseline":"middle","titleX":-49,"titleY":-10,
       "encode":{"labels":{"update":{"dy":{"signal":"datum.value==0?-5:1"}}}}}},
     "color":{"field":"grp","type":"nominal","scale":{"domain":["DG","GEM","NI","DN"],"range":["#ed1c24","#00a651","#231f20","#00aeef"]},"legend":null}}},
   {"bounds":"flush","spacing":13,"vconcat":[
    {"width":344,"height":152,"title":{"text":"Cross-correlation trials-to-trials","offset":-19},
     "resolve":{"scale":{"y":"independent"},"axis":{"y":"independent"}},
     "layer":[
      {"data":{"name":"xspike"},"transform":[{"fold":["DG","GEM","NI","DN"],"as":["grp","v"]}],
       "mark":{"type":"line","strokeWidth":1.3},
       "encoding":{
        "x":{"field":"lag","type":"quantitative","scale":{"domain":[-250,250],"nice":false},
         "axis":{"values":[-200,-100,0,100,200],"labels":false,"tickSize":-5,"title":null}},
        "y":{"field":"v","type":"quantitative","scale":{"domain":[-0.01,0.04],"nice":false,"zero":false},
         "axis":{"orient":"left","values":[-0.01,0,0.04],"labelExpr":"datum.value>0.02?'-0,04':datum.value<-0.005?'-0,01':'0'","tickSize":5,"labelPadding":3,"labelFontSize":15,"title":"D","titleAngle":0,"titleAlign":"left","titleBaseline":"middle","titleX":-49,"titleY":-16,
          "encode":{"labels":{"update":{"dy":{"signal":"datum.value<-0.005?-2:3"}}}}}},
        "color":{"field":"grp","type":"nominal","scale":{"domain":["DG","GEM","NI","DN"],"range":["#ed1c24","#00a651","#231f20","#00aeef"]},"legend":null}}},
      {"data":{"values":[{}]},"mark":{"type":"text","text":"Spike","fontSize":15,"fontWeight":"bold","color":"#231f20","font":"Liberation Sans"},
       "encoding":{"x":{"datum":202},"y":{"datum":0.0354,"type":"quantitative","scale":{"domain":[-0.01,0.04],"nice":false,"zero":false},"axis":{"orient":"left","values":[0.01,0.02,0.03],"labels":false,"domain":false,"tickSize":5,"title":null}}}}
     ]},
    {"bounds":"flush","spacing":66,"vconcat":[
     {"width":344,"height":154,
      "resolve":{"scale":{"y":"independent"},"axis":{"y":"independent"}},
      "layer":[
       {"data":{"name":"xvm"},"transform":[{"fold":["DG","GEM","NI","DN"],"as":["grp","v"]}],
        "mark":{"type":"line","strokeWidth":1.3},
        "encoding":{
         "x":{"field":"lag","type":"quantitative","scale":{"domain":[-250,250],"nice":false},
          "axis":{"values":[-250,-200,-100,0,100,200,250],"labelExpr":"datum.value==-250?'-250':datum.value==0?'0':datum.value==250?'250':''","tickSize":-5,"tickOpacity":{"condition":{"test":"abs(datum.value)==250","value":0},"value":1},"labelPadding":19,"labelAlign":{"condition":{"test":"datum.value==-250","value":"right"},"value":"center"},"title":"time (sec)","titleX":280,"titleY":15,"titleAlign":"center","titleBaseline":"middle"}},
         "y":{"field":"v","type":"quantitative","scale":{"domain":[-0.2,0.5],"nice":false,"zero":false},
          "axis":{"orient":"left","values":[-0.2,0,0.5],"labelExpr":"datum.value>0.2?'-0,5':datum.value<-0.1?'-0,2':'0'","tickSize":5,"labelPadding":3,"labelFontSize":15,"title":null,
           "encode":{"labels":{"update":{"dy":{"signal":"datum.value>0.2?5:datum.value<-0.1?-5:0"}}}}}},
         "color":{"field":"grp","type":"nominal","scale":{"domain":["DG","GEM","NI","DN"],"range":["#ed1c24","#00a651","#231f20","#00aeef"]},"legend":null}}},
       {"data":{"values":[{}]},"mark":{"type":"text","text":"Vm","fontSize":15,"fontWeight":"bold","color":"#231f20","font":"Liberation Sans"},
        "encoding":{"x":{"datum":206},"y":{"datum":0.44,"type":"quantitative","scale":{"domain":[-0.2,0.5],"nice":false,"zero":false},"axis":{"orient":"left","values":[-0.1,0.1,0.2,0.3,0.4],"labels":false,"domain":false,"tickSize":5,"title":null}}}}
      ]},
     {"width":344,"height":154,"title":{"text":"Inverse of the voltage Standard deviation (1/σ Vm )","offset":-6,"fontSize":14.5},
      "resolve":{"scale":{"y":"independent"},"axis":{"y":"independent"}},
      "layer":[
       {"data":{"name":"sigma"},"transform":[{"fold":["DG","NI"],"as":["grp","v"]}],
        "mark":{"type":"line","strokeWidth":1.2},
        "encoding":{
         "x":{"field":"t","type":"quantitative","scale":{"domain":[0,12],"nice":false},
          "axis":{"values":[0,2,4,6,8,10,12],"labelExpr":"datum.value==0?'0':datum.value==6?'6':datum.value==12?'12':''","tickSize":-5,"labelPadding":14,"title":"time (sec)","titleX":177,"titleY":33,"titleAlign":"center","titleBaseline":"middle"}},
         "y":{"field":"v","type":"quantitative","scale":{"domain":[50,150],"nice":false,"zero":false},
          "axis":{"orient":"left","values":[50,100,150],"labelExpr":"datum.value+'%'","tickSize":5,"labelPadding":4,"title":"E","titleAngle":0,"titleAlign":"left","titleBaseline":"middle","titleX":-49,"titleY":-15,
           "encode":{"labels":{"update":{"dy":{"signal":"datum.value>120?4:datum.value<80?-1:1"}}}}}},
         "color":{"field":"grp","type":"nominal","scale":{"domain":["DG","GEM","NI","DN"],"range":["#ed1c24","#00a651","#231f20","#00aeef"]},"legend":null}}},
       {"data":{"values":[{}]},"mark":{"type":"rule","color":"#231f20","strokeWidth":1},"encoding":{"x":{"datum":2}}},
       {"data":{"values":[{}]},"mark":{"type":"rule","color":"#231f20","strokeWidth":1,"strokeDash":[2,2]},
        "encoding":{"y":{"datum":100,"type":"quantitative","scale":{"domain":[50,150],"nice":false,"zero":false},"axis":{"orient":"left","values":[60,70,80,90,110,120,130,140],"labels":false,"domain":false,"tickSize":5,"title":null}}}}
      ]}
    ]}
   ]}
  ]}
 ]}
]},
{"bounds":"flush","spacing":2,"vconcat":[
 {"width":248,"height":1,"view":{"stroke":null},"data":{"values":[{}]},"mark":{"type":"text","text":""},"encoding":{}},
 {"bounds":"flush","spacing":76,"vconcat":[
  {"width":248,"height":135,"title":{"text":"Mean Spike Rate","offset":-6},
   "data":{"name":"bars"},"mark":{"type":"bar"},
   "encoding":{
    "x":{"field":"grp","type":"nominal","scale":{"domain":["DG","GEM","NI","DN"],"paddingInner":0.584,"paddingOuter":0.307,"align":0.565},
     "axis":{"title":null,"ticks":false,"labelPadding":10,"labelFontSize":15,"encode":{"labels":{"update":{"fill":{"signal":"datum.value=='DG'?'#ed1c24':datum.value=='GEM'?'#00a651':datum.value=='DN'?'#00aeef':'#231f20'"}}}}}},
    "y":{"field":"rate","type":"quantitative","scale":{"domain":[0,16],"nice":false},"axis":{"values":[0,8,16],"title":null,"tickSize":5,"labelPadding":4}},
    "color":{"field":"grp","type":"nominal","scale":{"domain":["DG","GEM","NI","DN"],"range":["#ed1c24","#00a651","#231f20","#00aeef"]},"legend":null}}},
  {"bounds":"flush","spacing":65,"vconcat":[
   {"width":248,"height":135,"title":{"text":"Sparseness (13 ms)","offset":-2},
    "data":{"name":"bars"},"mark":{"type":"bar"},
    "encoding":{
     "x":{"field":"grp","type":"nominal","scale":{"domain":["DG","GEM","NI","DN"],"paddingInner":0.584,"paddingOuter":0.307,"align":0.565},
      "axis":{"title":null,"ticks":false,"labelPadding":10,"labelFontSize":15,"encode":{"labels":{"update":{"fill":{"signal":"datum.value=='DG'?'#ed1c24':datum.value=='GEM'?'#00a651':datum.value=='DN'?'#00aeef':'#231f20'"}}}}}},
     "y":{"field":"spars","type":"quantitative","scale":{"domain":[0,90],"nice":false},"axis":{"values":[0,45,90],"title":null,"tickSize":5,"labelPadding":4,"encode":{"labels":{"update":{"dy":{"signal":"datum.value==0?-2:0"}}}}}},
     "color":{"field":"grp","type":"nominal","scale":{"domain":["DG","GEM","NI","DN"],"range":["#ed1c24","#00a651","#231f20","#00aeef"]},"legend":null}}},
   {"bounds":"flush","spacing":88,"vconcat":[
    {"width":248,"height":135,"title":{"text":"Fano Factor (13 ms)","offset":-1},
     "data":{"name":"bars"},"mark":{"type":"bar"},
     "encoding":{
      "x":{"field":"grp","type":"nominal","scale":{"domain":["DG","GEM","NI","DN"],"paddingInner":0.584,"paddingOuter":0.307,"align":0.565},
       "axis":{"title":null,"ticks":false,"labelPadding":17,"labelFontSize":15,"encode":{"labels":{"update":{"fill":{"signal":"datum.value=='DG'?'#ed1c24':datum.value=='GEM'?'#00a651':datum.value=='DN'?'#00aeef':'#231f20'"}}}}}},
      "y":{"field":"fano","type":"quantitative","scale":{"domain":[0,1],"nice":false},"axis":{"values":[0.5,1],"labelExpr":"datum.value==1?'1':'0.5'","title":null,"tickSize":5,"labelPadding":4}},
      "color":{"field":"grp","type":"nominal","scale":{"domain":["DG","GEM","NI","DN"],"range":["#ed1c24","#00a651","#231f20","#00aeef"]},"legend":null}}},
    {"bounds":"flush","spacing":41,"vconcat":[
     {"width":248,"height":136,"title":{"text":"Reliability","offset":7},
      "layer":[
       {"data":{"name":"rp"},"transform":[{"filter":"datum.sub=='Sp'"}],"mark":{"type":"bar"},
        "encoding":{
         "x":{"field":"grp","type":"nominal","scale":{"domain":["DG","GEM","NI","DN"],"paddingInner":0.174,"paddingOuter":0.128,"align":0.32},"axis":{"title":null,"labels":false,"ticks":false}},
         "xOffset":{"field":"sub","type":"nominal","scale":{"domain":["Sp","Vm"],"paddingInner":0,"paddingOuter":0}},
         "y":{"field":"rel","type":"quantitative","scale":{"domain":[0,0.45],"nice":false},"axis":{"values":[0,0.1,0.2,0.3,0.4],"labelExpr":"datum.value==0?'0':datum.value==0.4?'0.4':''","title":null,"tickSize":5,"labelPadding":4}},
         "color":{"field":"grp","type":"nominal","scale":{"domain":["DG","GEM","NI","DN"],"range":["#ed1c24","#00a651","#231f20","#00aeef"]},"legend":null}}},
       {"data":{"name":"rp"},"transform":[{"filter":"datum.sub=='Vm'"}],"mark":{"type":"bar","fill":"#cbcccd","strokeWidth":1.5},
        "encoding":{
         "x":{"field":"grp","type":"nominal"},
         "xOffset":{"field":"sub","type":"nominal"},
         "y":{"field":"rel","type":"quantitative"},
         "stroke":{"field":"grp","type":"nominal","scale":{"domain":["DG","GEM","NI","DN"],"range":["#ed1c24","#00a651","#231f20","#00aeef"]},"legend":null}}},
       {"data":{"values":[{}]},"mark":{"type":"text","text":"Sp.","fontSize":15,"fontWeight":"bold","color":"#231f20","font":"Liberation Sans"},"encoding":{"x":{"datum":"DN"},"xOffset":{"datum":"Sp"},"y":{"datum":0.126}}},
       {"data":{"values":[{}]},"mark":{"type":"text","text":"Vm","fontSize":15,"fontWeight":"bold","color":"#231f20","font":"Liberation Sans"},"encoding":{"x":{"datum":"DN"},"xOffset":{"datum":"Vm"},"y":{"datum":0.306}}}
      ]},
     {"bounds":"flush","spacing":82,"vconcat":[
      {"width":248,"height":135,"title":{"text":"Precision","offset":5},
       "layer":[
        {"data":{"name":"rp"},"transform":[{"filter":"datum.sub=='Sp'"}],"mark":{"type":"bar"},
         "encoding":{
          "x":{"field":"grp","type":"nominal","scale":{"domain":["DG","GEM","NI","DN"],"paddingInner":0.174,"paddingOuter":0.128,"align":0.32},
           "axis":{"title":null,"ticks":false,"labelPadding":16,"labelFontSize":15,"encode":{"labels":{"update":{"fill":{"signal":"datum.value=='DG'?'#ed1c24':datum.value=='GEM'?'#00a651':datum.value=='DN'?'#00aeef':'#231f20'"}}}}}},
          "xOffset":{"field":"sub","type":"nominal","scale":{"domain":["Sp","Vm"],"paddingInner":0,"paddingOuter":0}},
          "y":{"field":"prec","type":"quantitative","scale":{"domain":[0,70],"nice":false},"axis":{"values":[0,20,40,60],"title":null,"tickSize":5,"labelPadding":4,"encode":{"labels":{"update":{"dy":{"signal":"datum.value==0?-2:0"}}}}}},
          "color":{"field":"grp","type":"nominal","scale":{"domain":["DG","GEM","NI","DN"],"range":["#ed1c24","#00a651","#231f20","#00aeef"]},"legend":null}}},
        {"data":{"name":"rp"},"transform":[{"filter":"datum.sub=='Vm'"}],"mark":{"type":"bar","fill":"#c2c3c5","strokeWidth":1.5},
         "encoding":{
          "x":{"field":"grp","type":"nominal"},
          "xOffset":{"field":"sub","type":"nominal"},
          "y":{"field":"prec","type":"quantitative"},
          "stroke":{"field":"grp","type":"nominal","scale":{"domain":["DG","GEM","NI","DN"],"range":["#ed1c24","#00a651","#231f20","#00aeef"]},"legend":null}}},
        {"data":{"values":[{}]},"mark":{"type":"text","text":"Sp.","fontSize":15,"fontWeight":"bold","color":"#231f20","font":"Liberation Sans"},"encoding":{"x":{"datum":"DN"},"xOffset":{"datum":"Sp"},"y":{"datum":16}}},
        {"data":{"values":[{}]},"mark":{"type":"text","text":"Vm","fontSize":15,"fontWeight":"bold","color":"#231f20","font":"Liberation Sans"},"encoding":{"x":{"datum":"DN"},"xOffset":{"datum":"Vm"},"y":{"datum":23.4}}}
       ]},
      {"width":248,"height":135,
       "layer":[
        {"data":{"name":"bars"},"mark":{"type":"bar","fill":"#bcbec0","strokeWidth":1.5},
         "encoding":{
          "x":{"field":"grp","type":"nominal","scale":{"domain":["DG","GEM","NI","DN"],"paddingInner":0.584,"paddingOuter":0.307,"align":0.565},
           "axis":{"title":null,"ticks":false,"labelPadding":16,"labelFontSize":15,"encode":{"labels":{"update":{"fill":{"signal":"datum.value=='DG'?'#ed1c24':datum.value=='GEM'?'#00a651':datum.value=='DN'?'#00aeef':'#231f20'"}}}}}},
          "y":{"field":"sig","type":"quantitative","scale":{"domain":[80,120],"nice":false,"zero":false},"axis":{"values":[80,100,120],"labelExpr":"datum.value+'%'","title":null,"tickSize":5,"labelPadding":4,"encode":{"labels":{"update":{"dy":{"signal":"datum.value==120?4:datum.value==80?-2:0"}}}}}},
          "y2":{"datum":100},
          "stroke":{"field":"grp","type":"nominal","scale":{"domain":["DG","GEM","NI","DN"],"range":["#ed1c24","#00a651","#231f20","#00aeef"]},"legend":null}}},
        {"data":{"values":[{}]},"mark":{"type":"rule","color":"#231f20","strokeWidth":1.3},"encoding":{"y":{"datum":100}}}
       ]}
     ]}
    ]}
   ]}
  ]}
 ]}
]}
]
}
